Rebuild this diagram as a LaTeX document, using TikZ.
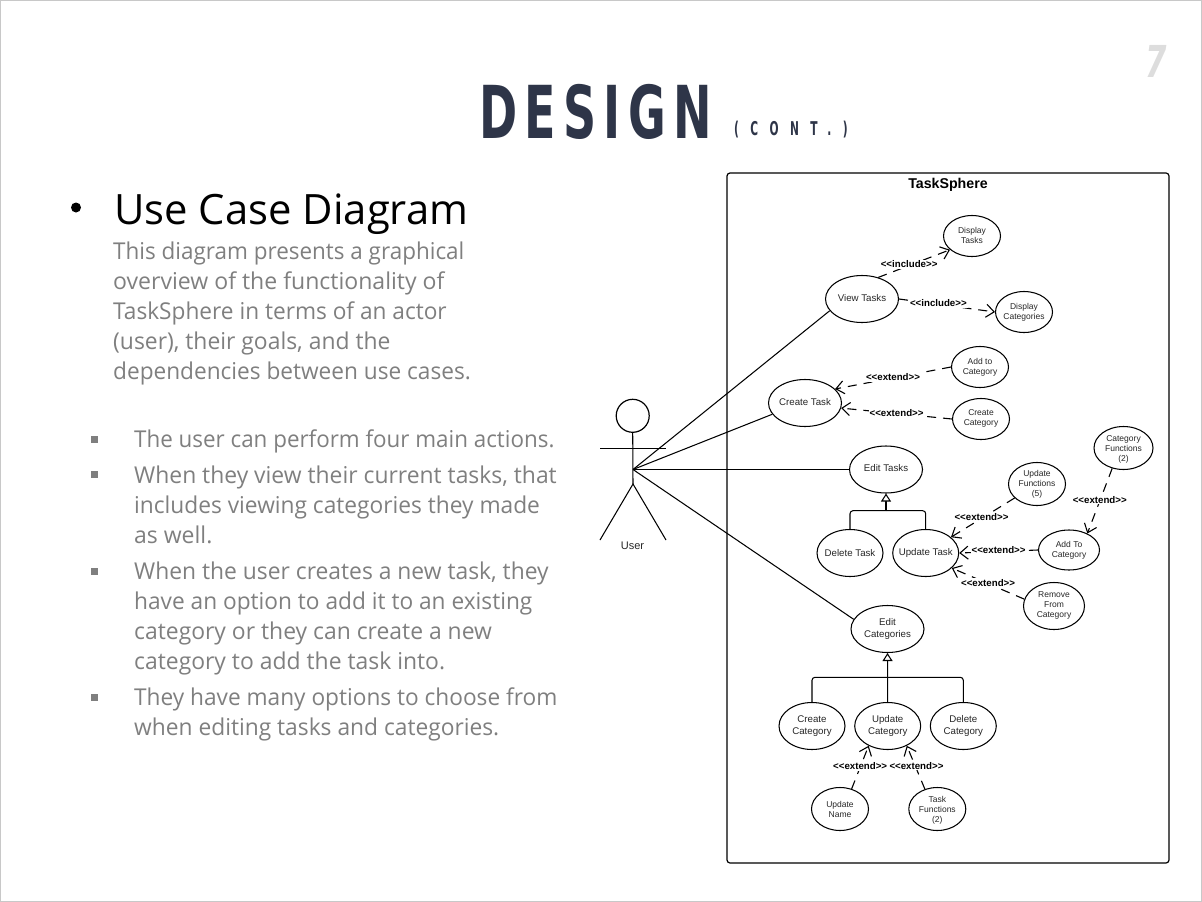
\documentclass[tikz,border=0pt]{standalone}
\usepackage{fontspec}
\usetikzlibrary{arrows.meta,shapes.geometric}
\setmainfont{Open Sans}
\newfontfamily\bodyfont[FakeStretch=0.965]{Open Sans}
\newfontfamily\diagfont{Liberation Sans}
\newfontfamily\titlefont[FakeStretch=0.63,LetterSpace=10]{DejaVu Sans Bold}
\newfontfamily\subfont[FakeStretch=0.56,LetterSpace=60]{DejaVu Sans Bold}
\newfontfamily\pagefont[FakeStretch=0.7]{DejaVu Sans Bold Oblique}
\definecolor{titleblue}{HTML}{2E3548}
\definecolor{bodygrey}{HTML}{7F7F7F}
\definecolor{pagegrey}{HTML}{DDDDDD}
\definecolor{framegrey}{HTML}{C8C8C8}
\definecolor{inktext}{HTML}{262626}
\newcommand\fitx[2]{\scalebox{#1}[1]{#2}}
\newcommand\liftup{\\[-8pt]\mbox{}}
\newcommand\pushdown{\rule{0pt}{8.2pt}}
\tikzset{
  uc/.style={draw=black,line width=1.05pt,ellipse,inner xsep=-14pt,inner ysep=-9pt,align=center,text=inktext},
  ucbig/.style={uc,minimum width=73pt,minimum height=47pt,font=\diagfont\fontsize{9.7pt}{11.4pt}\selectfont},
  ucsmall/.style={uc,minimum width=57pt,minimum height=41pt,font=\diagfont\fontsize{8.5pt}{10pt}\selectfont},
  ucthree/.style={ucsmall,minimum height=43pt},
  assoc/.style={draw=black,line width=1.05pt},
  dep/.style={draw=black,line width=1.1pt,dash pattern=on 9pt off 7pt,-{Straight Barb[length=8pt,width=13pt]}},
  gen/.style={draw=black,line width=1.05pt,-{Triangle[open,fill=white,length=8pt,width=10pt]}},
  branch/.style={draw=black,line width=1.05pt,rounded corners=3pt},
  deplabel/.style={fill=white,inner sep=1pt,yshift=1pt,text=black,font=\diagfont\bfseries\fontsize{9.7pt}{11pt}\selectfont},
  bodyline/.style={anchor=base west,inner sep=0pt,text=bodygrey,font=\bodyfont\fontsize{23.2pt}{30pt}\selectfont},
  sqbullet/.style={fill=bodygrey,draw=none,minimum size=7pt,inner sep=0pt,rectangle}
}
\begin{document}
\begin{tikzpicture}[x=1pt,y=-1pt]
\useasboundingbox (0,0) rectangle (1202,902);
\draw[framegrey,line width=1pt] (0.5,0.5) rectangle (1201.5,901.5);

% heading
\node[anchor=base west,inner sep=0pt,text=titleblue,font=\titlefont\fontsize{73pt}{73pt}\selectfont] (title) at (479,138.5) {DESIGN};
\node[anchor=base west,inner sep=0pt,text=titleblue,font=\subfont\fontsize{19pt}{19pt}\selectfont] (titlesub) at (734,135) {(CONT.)};
\node[anchor=base west,inner sep=0pt,text=pagegrey,font=\pagefont\fontsize{44pt}{44pt}\selectfont] (pageno) at (1145,77) {7};

% left text
\node[circle,fill=black,minimum size=10pt,inner sep=0pt] (mainbullet) at (76,207.5) {};
\node[anchor=base west,inner sep=0pt,text=black,font=\fontsize{41.8pt}{44pt}\selectfont] (heading) at (114,224.5) {Use Case Diagram};
\node[bodyline] (p1) at (113,259) {\fitx{1.003}{This diagram presents a graphical}};
\node[bodyline] (p2) at (113,289) {\fitx{1.03}{overview of the functionality of}};
\node[bodyline] (p3) at (113,319) {\fitx{1.012}{TaskSphere in terms of an actor}};
\node[bodyline] (p4) at (113,349) {\fitx{1.022}{(user), their goals, and the}};
\node[bodyline] (p5) at (113,379) {\fitx{1.011}{dependencies between use cases.}};

\node[sqbullet] (b1) at (94.5,439) {};
\node[bodyline] (q1) at (134,447) {The user can perform four main actions.};
\node[sqbullet] (b2) at (94.5,474) {};
\node[bodyline] (q2) at (134,483) {\fitx{1.022}{When they view their current tasks, that}};
\node[bodyline] (q3) at (134,513) {\fitx{1.015}{includes viewing categories they made}};
\node[bodyline] (q4) at (134,543) {\fitx{1.026}{as well.}};
\node[sqbullet] (b3) at (94.5,571) {};
\node[bodyline] (q5) at (134,579) {\fitx{1.02}{When the user creates a new task, they}};
\node[bodyline] (q6) at (134,609) {\fitx{1.013}{have an option to add it to an existing}};
\node[bodyline] (q7) at (134,639) {\fitx{1.023}{category or they can create a new}};
\node[bodyline] (q8) at (134,669) {\fitx{1.023}{category to add the task into.}};
\node[sqbullet] (b4) at (94.5,697) {};
\node[bodyline] (q9) at (134,705) {\fitx{1.012}{They have many options to choose from}};
\node[bodyline] (q10) at (134,735) {\fitx{1.017}{when editing tasks and categories.}};

% system boundary
\draw[black,line width=1.2pt,rounded corners=3pt] (727,173) rectangle (1169,863);
\node[inner sep=0pt,font=\diagfont\bfseries\fontsize{14.2pt}{16pt}\selectfont] (sys) at (948,184.5) {TaskSphere};

% actor
\node[circle,draw=black,line width=1.2pt,minimum size=33pt,inner sep=0pt] (head) at (632.7,415.8) {};
\coordinate (hub) at (633,469.5);
\coordinate (hip) at (633,484);
\coordinate (armL) at (600,448.2);
\coordinate (armR) at (666,448.2);
\coordinate (legL) at (600,540);
\coordinate (legR) at (666,540);
\draw[assoc] (head.south) -- (hip);
\draw[assoc,line width=1.25pt] (armL) -- (armR);
\draw[assoc] (legL) -- (hip) -- (legR);
\node[inner sep=0pt,text=inktext,font=\diagfont\fontsize{11pt}{13pt}\selectfont] (user) at (632.5,546) {User};

% use cases
\node[ucbig] (vt) at (862,299) {\raisebox{2.5pt}{View Tasks}};
\node[ucsmall] (dt) at (972,236) {Display\\Tasks\liftup};
\node[ucsmall] (dc) at (1024,312) {Display\\Categories\liftup};
\node[ucbig] (ct) at (805,403) {\raisebox{2pt}{Create Task}};
\node[ucsmall] (ac) at (980,367) {Add to\\Category};
\node[ucsmall] (cc) at (981,419) {Create\\Category\liftup};
\node[ucbig] (et) at (886,469.5) {\raisebox{2.5pt}{Edit Tasks}};
\node[ucthree,minimum width=59pt] (cf) at (1123.5,448) {\pushdown Category\\Functions\\(2)};
\node[ucthree] (uf) at (1037,484) {Update\\Functions\\(5)};
\node[ucbig,minimum width=66pt] (del) at (850,553) {\raisebox{1pt}{Delete Task}};
\node[ucbig,minimum width=66pt] (ut) at (925.7,553) {\raisebox{1pt}{Update Task}};
\node[ucsmall,minimum width=61pt,minimum height=40pt] (at) at (1069,550) {Add To\\Category\liftup};
\node[ucsmall,minimum width=61pt,minimum height=47pt] (rc) at (1054,606) {Remove\\From\\Category\liftup};
\node[ucbig] (ec) at (887.5,629) {Edit\\Categories};
\node[ucbig,minimum width=66pt] (crc) at (812,726) {Create\\Category};
\node[ucbig,minimum width=66pt] (upc) at (887.7,726) {Update\\Category};
\node[ucbig,minimum width=66pt] (dlc) at (963.3,726) {Delete\\Category};
\node[ucthree] (un) at (840,809) {Update\\Name};
\node[ucthree] (tf) at (937.3,809) {\pushdown Task\\Functions\\(2)};

% associations
\draw[assoc] (hub) -- (vt.200);
\draw[assoc] (hub) -- (ct.199);
\draw[assoc] (hub) -- (et.west);
\draw[assoc] (hub) -- (ec.164);

% generalisations
\coordinate (j1) at (886,510.7);
\coordinate (j2) at (887.6,677.3);
\draw[branch] (del.north) |- (j1);
\draw[branch] (ut.north) |- (j1);
\draw[gen] (j1) -- (et.south);
\draw[branch] (crc.north) |- (j2);
\draw[branch] (dlc.north) |- (j2);
\draw[assoc] (upc.north) -- (j2);
\draw[gen] (j2) -- (ec.south);

% dependencies
\draw[dep] (vt.53) -- node[deplabel,pos=.43] (l1) {<<include>>} (dt.212);
\draw[dep] (vt.east) -- node[deplabel,pos=.41] (l2) {<<include>>} (dc.west);
\draw[dep] (ac.west) -- node[deplabel,pos=.5] (l3) {<<extend>>} (ct.25);
\draw[dep] (cc.west) -- node[deplabel,pos=.5] (l4) {<<extend>>} (ct.352);
\draw[dep] (uf.212) -- node[deplabel,pos=.52] (l5) {<<extend>>} (ut.32);
\draw[dep] (at.west) -- node[deplabel,pos=.5] (l6) {<<extend>>} (ut.east);
\draw[dep] (rc.167) -- node[deplabel,pos=.5] (l7) {<<extend>>} (ut.330);
\draw[dep] (cf.241) -- node[deplabel,pos=.48,xshift=-.5pt,yshift=-1pt] (l8) {<<extend>>} (at.42);
\draw[dep] (un.60) -- node[deplabel,pos=.5] (l9) {<<extend>>} (upc.226);
\draw[dep] (tf.122) -- node[deplabel,pos=.52,xshift=1pt] (l10) {<<extend>>} (upc.314);
\end{tikzpicture}
\end{document}
